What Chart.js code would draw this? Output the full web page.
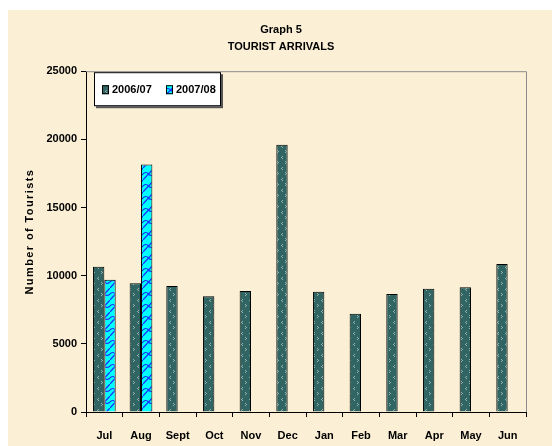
<!DOCTYPE html>
<html>
<head>
<meta charset="utf-8">
<script src="https://cdn.jsdelivr.net/npm/chart.js@4"></script>
<style>
  html, body { margin: 0; padding: 0; background: #fff; }
  #wrap { width: 552px; height: 446px; }
</style>
</head>
<body>
<div id="wrap"><canvas id="arrivalsChart" width="552" height="446"></canvas></div>
<script>
// data
const months = ["Jul", "Aug", "Sept", "Oct", "Nov", "Dec", "Jan", "Feb", "Mar", "Apr", "May", "Jun"];
const arrivals0607 = [10650, 9450, 9250, 8500, 8880, 19600, 8830, 7200, 8650, 9050, 9150, 10850];
const arrivals0708 = [9700, 18150, null, null, null, null, null, null, null, null, null, null];
const seriesNames = ["2006/07", "2007/08"];
const titleLines = ["Graph 5", "TOURIST ARRIVALS"];
const yTitle = "Number of Tourists";
const yMax = 25000;
const yStep = 5000;

const FONT = "'Liberation Sans', Arial, sans-serif";

// **Fill patterns**
function darkPattern(ctx) {
    let c = document.createElement("canvas");
    c.width = 8; c.height = 11;
    let p = c.getContext("2d");
    p.fillStyle = "#316563";
    p.fillRect(0, 0, 8, 11);
    p.fillStyle = "#93b2ae";
    // little chevrons made of dots
    p.fillRect(2, 2, 1, 1); p.fillRect(1, 3, 1, 1); p.fillRect(2, 4, 1, 1);
    p.fillRect(5, 7, 1, 1); p.fillRect(6, 8, 1, 1); p.fillRect(5, 9, 1, 1);
    return ctx.createPattern(c, "repeat");
}

function cyanPattern(ctx) {
    let c = document.createElement("canvas");
    c.width = 11; c.height = 12;
    let p = c.getContext("2d");
    p.fillStyle = "#00ffff";
    p.fillRect(0, 0, 11, 12);
    p.strokeStyle = "#1a2cff";
    p.lineWidth = 1.2;
    p.beginPath();
    p.moveTo(0, 12); p.lineTo(11, 0);
    p.moveTo(0, 6); p.quadraticCurveTo(3, 3, 5.5, 6);
    p.moveTo(5.5, 6); p.quadraticCurveTo(8, 9, 11, 6);
    p.stroke();
    return ctx.createPattern(c, "repeat");
}

// **Background, frame, legend, axis title**
const decorPlugin = {
    id: "decor",
    beforeDraw(chart) {
        let ctx = chart.ctx;
        ctx.save();
        ctx.fillStyle = "#ffffff";
        ctx.fillRect(0, 0, chart.width, chart.height);
        ctx.fillStyle = "#fbf0d6";
        ctx.fillRect(8, 10, chart.width - 8, chart.height - 10);
        ctx.restore();
    },
    afterDraw(chart) {
        let ctx = chart.ctx;
        let a = chart.chartArea;
        ctx.save();
        // gray top/right frame
        ctx.strokeStyle = "#8c8c8c";
        ctx.lineWidth = 1;
        ctx.beginPath();
        ctx.moveTo(a.left, a.top + 0.5);
        ctx.lineTo(a.right + 0.5, a.top + 0.5);
        ctx.lineTo(a.right + 0.5, a.bottom);
        ctx.stroke();

        // y title
        ctx.fillStyle = "#000";
        ctx.font = "bold 11px " + FONT;
        ctx.letterSpacing = "1.4px";
        ctx.textAlign = "center";
        ctx.textBaseline = "middle";
        ctx.translate(30, (a.top + a.bottom) / 2 - 10);
        ctx.rotate(-Math.PI / 2);
        ctx.fillText(yTitle, 0, 0);
        ctx.restore();

        // legend box
        ctx.save();
        let bx = a.left + 8, by = a.top + 1, bw = 127, bh = 34;
        ctx.fillStyle = "#555";
        ctx.fillRect(bx + 2, by + 2, bw, bh);
        ctx.fillStyle = "#fff";
        ctx.fillRect(bx, by, bw, bh);
        ctx.strokeStyle = "#000";
        ctx.lineWidth = 1;
        ctx.strokeRect(bx + 0.5, by + 0.5, bw - 1, bh - 1);
        ctx.font = "bold 11px " + FONT;
        ctx.textBaseline = "middle";
        ctx.textAlign = "left";
        let xs = [bx + 8, bx + 72];
        chart.data.datasets.forEach((ds, i) => {
            let sx = xs[i], sy = by + 13;
            ctx.fillStyle = ds.backgroundColor;
            ctx.fillRect(sx, sy, 7, 9);
            ctx.strokeStyle = "#000";
            ctx.strokeRect(sx + 0.5, sy + 0.5, 6, 8);
            ctx.fillStyle = "#000";
            ctx.fillText(ds.label, sx + 10, by + 18);
        });
        ctx.restore();
    }
};

let ctx = document.getElementById("arrivalsChart").getContext("2d");

new Chart(ctx, {
    type: "bar",
    data: {
        labels: months,
        datasets: [
            {
                label: seriesNames[0],
                data: arrivals0607,
                backgroundColor: darkPattern(ctx),
                borderColor: "#000",
                borderWidth: 1,
                borderSkipped: "bottom"
            },
            {
                label: seriesNames[1],
                data: arrivals0708,
                backgroundColor: cyanPattern(ctx),
                borderColor: "#000",
                borderWidth: 1,
                borderSkipped: "bottom"
            }
        ]
    },
    options: {
        responsive: false,
        animation: false,
        devicePixelRatio: 1,
        categoryPercentage: 0.62,
        barPercentage: 1.0,
        layout: { padding: { left: 36, right: 26, top: 0, bottom: 0 } },
        plugins: {
            legend: { display: false },
            tooltip: { enabled: false },
            title: {
                display: true,
                text: titleLines,
                color: "#000",
                font: { family: FONT, size: 11, weight: "bold", lineHeight: 1.6 },
                padding: { top: 21, bottom: 15 }
            }
        },
        scales: {
            x: {
                afterFit(scale) { scale.height = 34; },
                grid: {
                    display: true,
                    offset: true,
                    drawOnChartArea: false,
                    tickLength: 5,
                    tickColor: "#000"
                },
                border: { color: "#000", width: 1 },
                ticks: {
                    color: "#000",
                    padding: 12,
                    maxRotation: 0,
                    font: { family: FONT, size: 11, weight: "bold" }
                }
            },
            y: {
                min: 0,
                max: yMax,
                afterFit(scale) { scale.width = 50; },
                grid: {
                    drawOnChartArea: false,
                    tickLength: 5,
                    tickColor: "#000"
                },
                border: { color: "#000", width: 1 },
                ticks: {
                    stepSize: yStep,
                    color: "#000",
                    padding: 4,
                    callback: v => String(v),
                    font: { family: FONT, size: 11, weight: "bold" }
                }
            }
        }
    },
    plugins: [decorPlugin]
});
</script>
</body>
</html>
